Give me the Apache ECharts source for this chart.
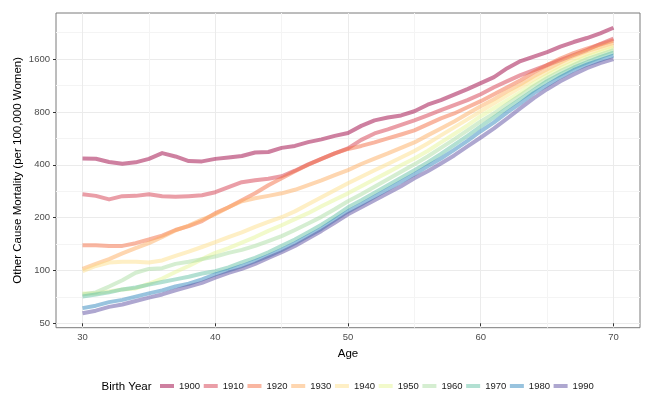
<!DOCTYPE html>
<html><head><meta charset="utf-8">
<script src="https://cdn.jsdelivr.net/npm/echarts@6/dist/echarts.min.js"></script>
<style>html,body{margin:0;padding:0;background:#fff}#chart{width:654px;height:401px}</style>
</head><body><div id="chart"></div>
<script>
const ages = [30,31,32,33,34,35,36,37,38,39,40,41,42,43,44,45,46,47,48,49,50,51,52,53,54,55,56,57,58,59,60,61,62,63,64,65,66,67,68,69,70];
const birthYears = ['1900','1910','1920','1930','1940','1950','1960','1970','1980','1990'];
const mort1900 = [434,433,415,405,413,432,466,446,420,418,432,440,449,470,473,499,512,538,558,584,607,666,716,744,764,807,879,933,1003,1078,1166,1262,1420,1558,1653,1754,1885,2000,2108,2242,2413];
const mort1910 = [272,266,254,265,266,272,265,263,265,268,279,298,318,326,333,344,370,402,432,464,496,554,603,636,674,716,764,818,874,933,1009,1106,1197,1295,1383,1477,1578,1686,1801,1948,2094];
const mort1920 = [139,139,138,138,143,150,158,170,179,191,212,229,251,275,306,335,367,400,432,464,492,512,536,565,595,628,679,735,784,851,921,1009,1106,1213,1347,1477,1611,1731,1836,1936,2040];
const mort1930 = [102,109,116,125,134,143,155,169,180,195,209,229,248,258,266,275,288,306,326,349,373,404,434,464,499,536,588,644,706,780,862,945,1050,1151,1278,1401,1530,1664,1777,1873,1974];
const mort1940 = [99,106,111,112,112,111,114,121,128,136,145,155,165,177,189,201,217,238,261,286,314,342,372,404,440,479,529,588,653,725,807,897,996,1106,1229,1347,1477,1600,1708,1812,1910];
const mort1950 = [74,74,76,78,79,84,90,98,106,116,126,134,144,155,168,181,196,212,232,253,275,302,331,362,397,434,479,536,599,670,756,840,933,1036,1166,1295,1420,1530,1653,1754,1861];
const mort1960 = [73,75,81,88,97,102,103,109,112,116,120,126,131,138,147,157,170,185,202,223,248,272,300,331,365,402,446,499,558,628,706,784,885,996,1121,1245,1365,1477,1600,1697,1801];
const mort1970 = [71,73,75,78,80,83,86,89,92,96,99,104,111,118,127,138,150,165,182,203,229,251,277,306,337,372,412,461,519,584,661,744,840,945,1064,1197,1309,1429,1530,1643,1743];
const mort1980 = [61,63,66,68,71,74,77,81,84,89,95,100,106,113,121,131,143,157,173,194,217,238,263,290,320,353,392,434,486,547,621,697,795,897,1023,1136,1262,1383,1487,1578,1675];
const mort1990 = [57,59,62,64,67,70,73,77,81,85,91,97,102,109,118,127,138,152,168,187,209,229,251,275,302,335,367,407,452,509,572,644,735,840,958,1078,1197,1309,1420,1516,1600];
const yTickLabels = [50,100,200,400,800,1600];
const xTickLabels = [30,40,50,60,70];

const allSeries = [mort1900,mort1910,mort1920,mort1930,mort1940,mort1950,mort1960,mort1970,mort1980,mort1990];
const colors = ['rgba(158,1,66,0.5)','rgba(213,62,79,0.5)','rgba(244,109,67,0.5)','rgba(253,174,97,0.5)','rgba(254,224,139,0.5)','rgba(230,245,152,0.5)','rgba(171,221,164,0.5)','rgba(102,194,165,0.5)','rgba(50,136,189,0.5)','rgba(94,79,162,0.5)'];
const base = 50;
const toY = v => Math.log2(v / base);
const yMajor = yTickLabels.map(toY);
const yMinor = yMajor.map(v => v + 0.5);
const xMinor = xTickLabels.slice(0, -1).map((v, i) => (v + xTickLabels[i + 1]) / 2);
const font = '"Liberation Sans", Arial, sans-serif';

const chart = echarts.init(document.getElementById('chart'), null, {renderer: 'canvas'});
const option = {
  animation: false,
  title: {text: 'Birth Year', left: 101.5, top: 380.5, padding: 0,
    textStyle: {fontSize: 11.5, fontWeight: 'normal', color: '#000', fontFamily: font}},
  legend: {left: 160, top: 381, padding: 0, itemWidth: 14, itemHeight: 4, itemGap: 3.6, icon: 'rect',
    data: birthYears, textStyle: {fontSize: 9.5, color: '#1a1a1a', fontFamily: font}},
  grid: {left: 56, top: 13, width: 584, height: 314.7, show: true, borderColor: '#7a7a7a', borderWidth: 1,
    backgroundColor: 'transparent', outerBoundsMode: 'none'},
  xAxis: [{
    type: 'value', min: 28, max: 72,
    name: 'Age', nameLocation: 'middle', nameGap: 20, nameMoveOverlap: false,
    nameTextStyle: {fontSize: 11.5, color: '#000', fontFamily: font},
    axisLine: {show: false},
    axisTick: {show: true, customValues: xTickLabels, length: 3, lineStyle: {color: '#333'}},
    axisLabel: {customValues: xTickLabels, fontSize: 9.5, color: '#4d4d4d', margin: 5, fontFamily: font},
    splitLine: {show: true, lineStyle: {color: '#ebebeb', width: 1}}
  }, {
    type: 'value', min: 28, max: 72, position: 'bottom',
    axisLine: {show: false},
    axisTick: {show: false, customValues: xMinor},
    axisLabel: {show: false, customValues: xMinor},
    splitLine: {show: true, lineStyle: {color: '#f4f4f4', width: 1}}
  }],
  yAxis: [{
    type: 'value', min: toY(47.2), max: toY(2927),
    name: 'Other Cause Mortality (per 100,000 Women)', nameLocation: 'middle', nameGap: 32, nameMoveOverlap: false,
    nameTextStyle: {fontSize: 11.5, color: '#000', fontFamily: font},
    axisLine: {show: false},
    axisTick: {show: true, customValues: yMajor, length: 3, lineStyle: {color: '#333'}},
    axisLabel: {customValues: yMajor, fontSize: 9.5, color: '#4d4d4d', margin: 6, fontFamily: font,
      formatter: v => String(Math.round(base * Math.pow(2, v)))},
    splitLine: {show: true, lineStyle: {color: '#ebebeb', width: 1}}
  }, {
    type: 'value', min: toY(47.2), max: toY(2927), position: 'left',
    axisLine: {show: false},
    axisTick: {show: false, customValues: yMinor},
    axisLabel: {show: false, customValues: yMinor},
    splitLine: {show: true, lineStyle: {color: '#f4f4f4', width: 1}}
  }],
  series: allSeries.map((arr, i) => ({
    name: birthYears[i], type: 'line', xAxisIndex: 0, yAxisIndex: 0,
    showSymbol: false, symbol: 'none', smooth: false,
    color: colors[i],
    lineStyle: {width: 4, color: colors[i], cap: 'butt', join: 'round'},
    itemStyle: {color: colors[i]},
    data: arr.map((v, j) => [ages[j], toY(v)])
  }))
};
chart.setOption(option);
</script></body></html>
